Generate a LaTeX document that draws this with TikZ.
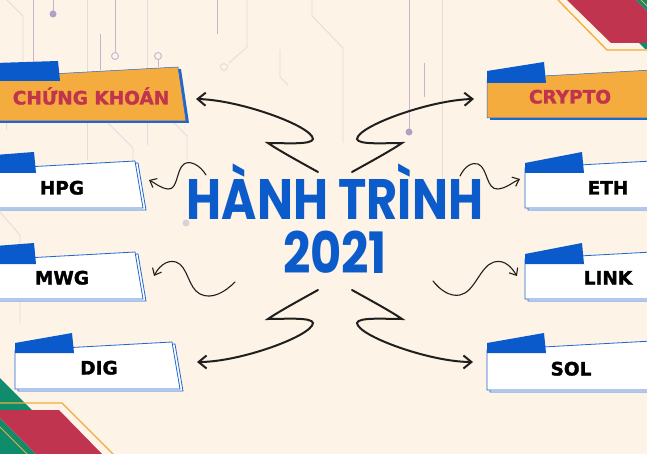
\documentclass[tikz,border=0pt]{standalone}
\usepackage{fontspec}
\setmainfont{DejaVu Sans}
\newfontfamily\cardfont{DejaVu Sans}[BoldFeatures={FakeBold=1.6}]
\newfontfamily\titlefont{Poppins}
\usepackage{graphicx}
\usetikzlibrary{arrows.meta}
\definecolor{bgCream}{HTML}{FDF3E6}
\definecolor{wireLight}{HTML}{E6DBDE}
\definecolor{wireDark}{HTML}{C6B5D0}
\definecolor{dotPurple}{HTML}{B3A0C4}
\definecolor{titleBlue}{HTML}{0B5BCB}
\definecolor{cardBlue}{HTML}{1F66D1}
\definecolor{tabBlue}{HTML}{0A5ACB}
\definecolor{cardOrange}{HTML}{F4AC3F}
\definecolor{labelRed}{HTML}{C2334D}
\definecolor{inkBlack}{HTML}{1F1F1F}
\definecolor{cornerRed}{HTML}{C1344F}
\definecolor{cornerGreen}{HTML}{0E8C6C}
\definecolor{cornerOrange}{HTML}{F2AC3C}
\tikzset{
  wireL/.style={draw=wireLight, line width=0.9pt},
  wireD/.style={draw=wireDark, line width=0.9pt},
  bigarrow/.style={draw=inkBlack, line width=2pt, line cap=round,
                   -{Straight Barb[length=8pt, width=13pt]}},
  smallarrow/.style={draw=inkBlack, line width=1.1pt, line cap=round,
                     -{Straight Barb[length=6pt, width=10pt]}},
  cardW/.style={draw=cardBlue, line width=0.8pt, fill=white},
  cardWshadow/.style={draw=cardBlue, line width=0.8pt, fill=white},
  cardO/.style={draw=cardBlue, line width=0.5pt, fill=cardOrange},
  cardOshadow/.style={fill=cardBlue},
  cardlabel/.style={anchor=base, inner sep=0pt,
                    font=\cardfont\bfseries\fontsize{18.5}{19}\selectfont},
  titletext/.style={anchor=base, inner sep=0pt, text=titleBlue,
                    font=\titlefont\bfseries\fontsize{57}{60}\selectfont},
}
% card: left, tab right, tab top (left, right), tab bottom, right, top, bottom, style
\newcommand{\labelcard}[9]{%
  \path[#9shadow, shift={(3,2)}] (#1,{#7+0.055*(#6-#1)}) -- (#6,#7)
    -- (#6+8,#8) -- (#1,#8) -- cycle;
  \path[#9] (#1,{#7+0.055*(#6-#1)}) -- (#6,#7) -- (#6+8,#8) -- (#1,#8) -- cycle;
  \fill[tabBlue] (#1,#5) -- (#1,#3) -- (#2-2,#4) -- (#2,#5) -- cycle;
}

\begin{document}
\begin{tikzpicture}[x=1pt, y=-1pt]
  \useasboundingbox (0,0) rectangle (647,454);
  \clip (0,0) rectangle (647,454);
  \fill[bgCream] (0,0) rectangle (647,454);

  % circuit lines
  \draw[wireL] (7,0) -- (23,16) -- (23,62);
  \draw[wireL] (87,0) -- (87,160);
  \draw[wireL] (147,0) -- (147,145);
  \draw[wireL] (247,0) -- (247,47) -- (229,63);
  \draw[wireL] (224,67) circle (3.5);
  \draw[wireL] (312,0) -- (312,16) -- (343,48) -- (343,143);
  \draw[wireL] (280,50) -- (280,77) -- (288,85);
  \draw[wireL] (107,122) -- (133,148) -- (133,162);
  \draw[wireL] (173,122) -- (187,136) -- (187,160);
  \draw[wireL] (442,0) -- (442,215);
  \draw[wireL] (0,212) -- (20,235) -- (20,323);
  \draw[wireL] (6,120) -- (6,130);
  \fill[wireLight!80!dotPurple] (186,223) circle (3.5);
  \draw[wireD] (33,0) -- (33,62);
  \draw[wireD] (53,0) -- (53,12);
  \fill[dotPurple] (53,14) circle (3.5);
  \draw[wireD] (115,0) -- (115,52.5);
  \draw[wireD] (115,56) circle (3.5);
  \draw[wireD] (100,34) -- (100,70);
  \draw[wireD] (158,56) circle (3.5);
  \draw[wireD] (158,59.5) -- (158,67);
  \draw[wireD] (217,0) -- (217,34);
  \draw[wireD] (409,0) -- (409,129);
  \fill[dotPurple] (409,132) circle (3.5);
  \draw[wireD] (424,63) -- (424,97);

  % corners
  \fill[cornerRed] (567,0) -- (636,0) -- (647,11) -- (647,43) -- (611,43) -- cycle;
  \fill[cornerGreen] (636,0) -- (647,0) -- (647,11) -- cycle;
  \draw[cornerOrange, line width=0.8pt] (641,0) -- (647,6);
  \fill[cornerGreen] (639,43) -- (647,43) -- (647,49) -- (645,49) -- cycle;
  \draw[cornerOrange, line width=1.3pt] (558,0) -- (607,50) -- (647,50);
  \fill[cornerGreen] (0,378) -- (32,410) -- (0,410) -- cycle;
  \fill[cornerGreen] (0,418) -- (36,454) -- (0,454) -- cycle;
  \draw[cornerOrange, line width=0.8pt] (0,427) -- (27,454);
  \fill[cornerRed] (0,410) -- (59,410) -- (102,454) -- (36,454) -- (0,418) -- cycle;
  \draw[cornerOrange, line width=1.3pt] (0,403) -- (62,403) -- (113,454);

  % cards
  \labelcard{-5}{60}{63}{61}{81}{178}{67}{121}{cardO}
  \labelcard{487}{546}{71}{62}{83}{652}{70}{118}{cardO}
  \labelcard{-5}{36}{155}{152}{173}{135}{161}{208}{cardW}
  \labelcard{-5}{36}{246}{243}{264}{135}{252}{299}{cardW}
  \labelcard{15}{74}{343}{333}{353}{172}{342}{389}{cardW}
  \labelcard{525}{584}{163}{152}{173}{652}{161}{208}{cardW}
  \labelcard{525}{584}{254}{243}{264}{652}{252}{299}{cardW}
  \labelcard{487}{546}{343}{333}{353}{652}{341}{390}{cardW}

  \node[cardlabel, text=labelRed] (ck) at (91,104.5) {CHỨNG KHOÁN};
  \node[cardlabel, text=labelRed] (crypto) at (570,103.5) {CRYPTO};
  \node[cardlabel] (hpg) at (62,194.5) {HPG};
  \node[cardlabel] (mwg) at (62,284.5) {MWG};
  \node[cardlabel] (dig) at (99,374.5) {DIG};
  \node[cardlabel] (eth) at (608,194.5) {ETH};
  \node[cardlabel] (link) at (608,284.5) {LINK};
  \node[cardlabel] (sol) at (571,375.5) {SOL};

  % title
  \node[titletext] (title) at (335,220) {\scalebox{0.84}[1]{HÀNH TRÌNH}};
  \node[titletext] (year) at (335,273) {\scalebox{0.84}[1]{2021}};

  % arrows
  \coordinate (ckFrom) at (318,172);
  \coordinate (ckTo) at (196,99);
  \coordinate (cryptoFrom) at (352,172);
  \coordinate (cryptoTo) at (474,99);
  \coordinate (digFrom) at (318,290);
  \coordinate (digTo) at (197,362);
  \coordinate (solFrom) at (352,290);
  \coordinate (solTo) at (473,362);
  \coordinate (hpgFrom) at (206,175);
  \coordinate (hpgTo) at (149,180);
  \coordinate (mwgFrom) at (235,282);
  \coordinate (mwgTo) at (154,276);
  \coordinate (ethFrom) at (460,176);
  \coordinate (ethTo) at (520,179);
  \coordinate (linkFrom) at (433,281);
  \coordinate (linkTo) at (517,276);

  \draw[bigarrow] (ckFrom) .. controls (300,162) and (278,150) .. (268,143)
    .. controls (285,143) and (312,145) .. (313,139)
    .. controls (312,126) and (240,100) .. (ckTo);
  \draw[bigarrow] (cryptoFrom) .. controls (370,162) and (392,150) .. (402,143)
    .. controls (385,143) and (358,145) .. (357,139)
    .. controls (358,126) and (430,100) .. (cryptoTo);
  \draw[bigarrow] (digFrom) .. controls (300,300) and (278,312) .. (268,319)
    .. controls (285,319) and (312,317) .. (313,323)
    .. controls (312,336) and (240,362) .. (digTo);
  \draw[bigarrow] (solFrom) .. controls (370,300) and (392,312) .. (402,319)
    .. controls (385,319) and (358,317) .. (357,323)
    .. controls (358,336) and (430,362) .. (solTo);
  \draw[smallarrow] (hpgFrom) .. controls (200,165) and (190,160) .. (184,164)
    .. controls (176,170) and (178,190) .. (168,189)
    .. controls (160,188) and (155,183) .. (hpgTo);
  \draw[smallarrow] (mwgFrom) .. controls (225,292) and (212,300) .. (200,294)
    .. controls (188,288) and (188,266) .. (176,262)
    .. controls (166,259) and (158,268) .. (mwgTo);
  \draw[smallarrow] (ethFrom) .. controls (465,166) and (472,162) .. (478,164)
    .. controls (488,168) and (486,190) .. (498,189)
    .. controls (507,188) and (513,182) .. (ethTo);
  \draw[smallarrow] (linkFrom) .. controls (440,290) and (450,297) .. (460,295)
    .. controls (475,292) and (480,266) .. (494,262)
    .. controls (505,259) and (512,268) .. (linkTo);
\end{tikzpicture}
\end{document}
